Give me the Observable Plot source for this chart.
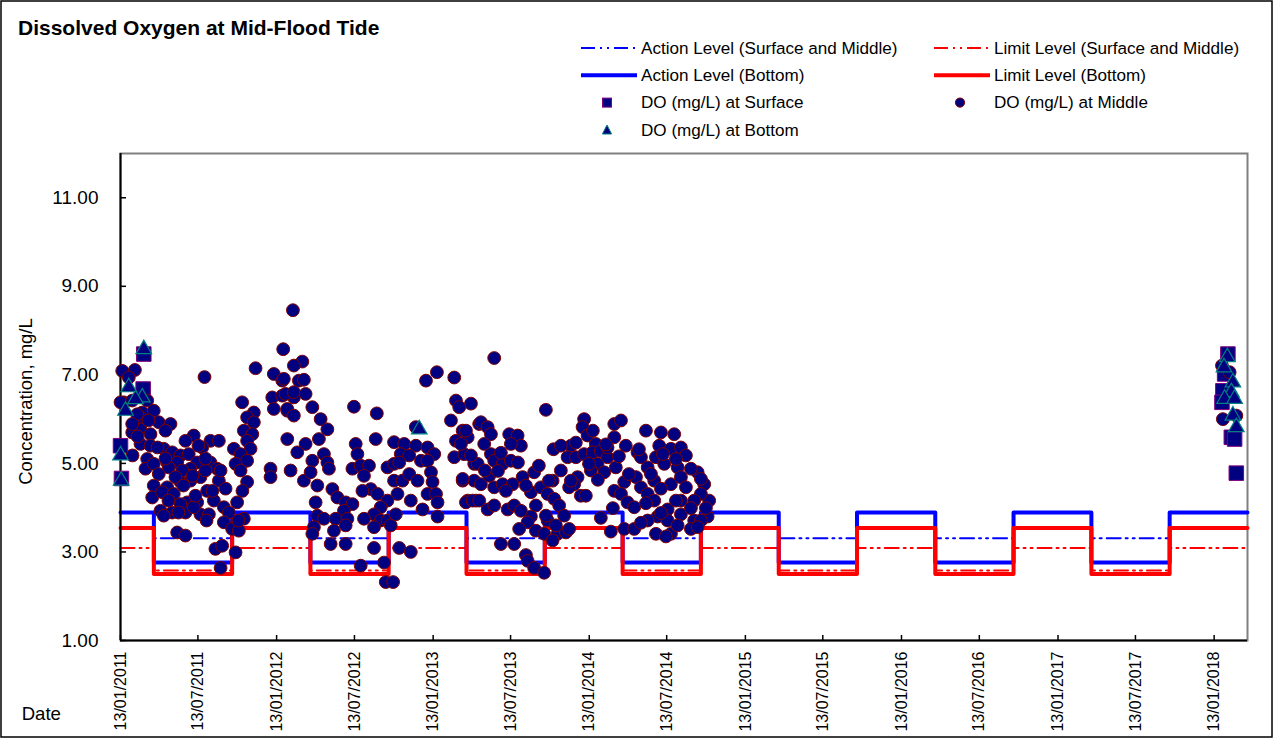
<!DOCTYPE html>
<html><head><meta charset="utf-8">
<script src="https://cdn.jsdelivr.net/npm/d3@7"></script>
<script src="https://cdn.jsdelivr.net/npm/@observablehq/plot@0.6"></script>
<style>
body{margin:0;background:#fff;}
#wrap{position:relative;width:1279px;height:740px;font-family:"Liberation Sans",Arial,sans-serif;}
#chart{position:absolute;left:0;top:0;}
#overlay{position:absolute;left:0;top:0;pointer-events:none;}
</style></head><body>
<div id="wrap"><div id="chart"></div><svg id="overlay" width="1279" height="740"></svg></div>
<script>
// ---------- data ----------
const titleText = "Dissolved Oxygen at Mid-Flood Tide";
const yTitle = "Concentration, mg/L";
const xTitle = "Date";
const xDomain = ["2011-01-13", "2018-04-01"];
const yDomain = [1, 12];
const yTicks = [1, 3, 5, 7, 9, 11];
const tickDates = ["2011-01-13","2011-07-13","2012-01-13","2012-07-13","2013-01-13","2013-07-13","2014-01-13","2014-07-13","2015-01-13","2015-07-13","2016-01-13","2016-07-13","2017-01-13","2017-07-13","2018-01-13"];

// seasonal step levels (value holds from each date until the next)
const levelDates = ["2011-01-13","2011-04-01","2011-10-01","2012-04-01","2012-10-01","2013-04-01","2013-10-01","2014-04-01","2014-10-01","2015-04-01","2015-10-01","2016-04-01","2016-10-01","2017-04-01","2017-10-01","2018-04-01"];
const actionSM = [3.89,3.31,3.89,3.31,3.89,3.31,3.89,3.31,3.89,3.31,3.89,3.31,3.89,3.31,3.89,3.89];
const limitSM  = [3.09,2.58,3.09,2.58,3.09,2.58,3.09,2.58,3.09,2.58,3.09,2.58,3.09,2.58,3.09,3.09];
const actionB  = [3.89,2.76,3.89,2.76,3.89,2.76,3.89,2.76,3.89,2.76,3.89,2.76,3.89,2.76,3.89,3.89];
const limitB   = [3.54,2.50,3.54,2.50,3.54,2.50,3.54,2.50,3.54,2.50,3.54,2.50,3.54,2.50,3.54,3.54];

// DO readings: [decimal year, mg/L]
const surface = [[2011.182,7.47],[2011.178,6.68],[2011.033,5.40],[2011.039,4.66],[2018.121,7.47],[2018.100,7.02],[2018.089,6.64],[2018.083,6.38],[2018.143,5.59],[2018.164,5.55],[2018.175,4.78]];
const bottom = [[2011.182,7.58],[2011.086,6.72],[2011.172,6.49],[2011.129,6.45],[2011.065,6.19],[2011.033,5.18],[2011.037,4.61],[2012.944,5.77],[2018.117,7.40],[2018.096,7.17],[2018.153,6.83],[2018.143,6.61],[2018.100,6.46],[2018.164,6.46],[2018.153,6.08],[2018.175,5.82]];
const middle = [
[2011.044,7.09],[2011.125,7.11],[2011.086,6.94],[2011.054,6.38],[2011.204,6.42],[2011.172,6.15],[2011.246,6.19],[2011.161,6.04],[2011.278,5.93],[2011.353,5.89],[2011.108,5.70],[2011.161,5.77],[2011.225,5.66],[2011.161,5.44],[2011.225,5.40],[2011.502,5.63],[2011.609,5.51],[2011.663,5.51],[2011.556,5.36],[2011.204,5.10],[2011.193,4.88],[2011.246,4.99],[2011.310,5.33],[2011.364,5.25],[2011.417,5.18],[2011.470,5.21],[2011.332,5.02],[2011.396,5.02],[2011.524,5.02],[2011.609,5.02],[2011.652,4.88],[2011.481,4.88],[2011.417,4.58],[2011.545,4.69],[2011.663,4.61],[2011.278,4.76],[2011.246,4.50],[2011.332,4.46],[2011.236,4.23],[2011.300,4.35],[2011.374,4.31],[2011.460,4.12],[2011.524,4.12],[2011.588,4.38],[2011.631,4.16],[2011.289,3.93],[2011.364,3.89],[2011.449,3.89],[2011.545,3.85],[2011.599,3.85],[2011.310,3.82],[2011.695,4.01],[2011.727,3.89],[2011.780,4.12],[2011.695,3.67],[2011.748,3.52],[2011.823,3.75],[2011.791,3.48],[2011.396,3.44],[2011.449,3.37],[2011.641,3.07],[2011.684,3.14],[2011.770,2.99],[2011.674,2.64],[2011.571,6.95],[2011.898,7.15],[2011.812,6.38],[2011.887,6.15],[2011.844,6.04],[2011.887,5.93],[2011.823,5.74],[2011.877,5.66],[2011.844,5.51],[2011.866,5.33],[2011.759,5.33],[2011.802,5.21],[2011.844,5.06],[2011.770,4.99],[2011.844,4.58],[2012.015,7.02],[2012.069,6.87],[2012.005,6.49],[2012.069,6.53],[2012.015,6.23],[2012.101,6.19],[2012.143,6.49],[2011.994,4.88],[2011.994,4.69],[2012.122,4.84],
[2011.033,6.38],[2011.108,6.42],[2011.140,6.11],[2011.108,5.89],[2011.342,4.91],[2011.428,4.84],[2011.385,4.69],[2011.481,4.61],[2011.577,4.84],[2011.502,4.01],[2011.417,4.08],
[2011.321,5.11],[2011.494,4.72],[2011.577,5.11],[2011.622,4.38],[2011.340,4.16],[2011.404,3.89],[2011.513,4.27],[2011.436,4.50],[2011.674,4.84],[2011.706,4.43],[2011.270,5.36],[2011.321,5.74],[2011.449,5.51],[2011.532,5.40],[2011.212,5.97],[2011.142,5.61],[2011.110,5.18],[2011.814,4.38],[2011.802,4.84],[2011.789,3.71],[2011.584,3.71],
[2012.137,8.46],[2012.075,7.58],[2012.197,7.30],[2012.143,7.21],[2012.079,6.91],[2012.175,6.87],[2012.207,6.89],[2012.090,6.57],[2012.143,6.61],[2012.218,6.57],[2012.101,6.23],[2012.143,6.08],[2012.261,6.27],[2012.314,6.00],[2012.357,5.77],[2012.101,5.55],[2012.218,5.44],[2012.165,5.25],[2012.303,5.55],[2012.261,5.06],[2012.335,5.21],[2012.357,5.02],[2012.367,4.88],[2012.207,4.61],[2012.250,4.80],[2012.293,4.50],[2012.282,4.12],[2012.389,4.42],[2012.421,4.23],[2012.474,4.12],[2012.517,4.08],[2012.463,3.93],[2012.293,3.82],[2012.335,3.75],[2012.410,3.75],[2012.485,3.75],[2012.271,3.56],[2012.261,3.41],[2012.399,3.48],[2012.474,3.60],[2012.378,3.18],[2012.474,3.18],[2012.570,2.69],[2012.527,6.28],[2012.673,6.13],[2012.666,5.55],[2012.538,5.44],[2012.549,5.21],[2012.517,4.88],[2012.570,4.95],[2012.623,4.95],[2012.591,4.72],[2012.634,4.42],[2012.581,4.38],[2012.677,4.31],[2012.741,4.91],[2012.783,4.99],[2012.783,5.48],[2012.848,5.44],[2012.922,5.82],[2012.922,5.40],[2012.997,5.36],[2013.040,5.21],[2012.987,6.87],[2013.057,7.06],[2013.168,6.94],[2012.826,5.21],[2012.880,5.18],[2012.955,5.06],[2012.997,5.06],[2012.816,5.02],[2012.783,4.61],[2012.837,4.61],[2012.880,4.76],[2012.933,4.61],[2013.019,4.80],[2013.029,4.58],[2012.997,4.31],[2013.051,4.31],[2013.061,4.12],[2012.805,4.31],[2012.890,4.16],[2012.741,4.16],[2012.698,4.01],[2012.655,3.85],[2012.698,3.71],[2012.741,3.71],[2012.762,3.60],[2012.794,3.85],[2012.965,3.96],[2013.061,3.80],[2012.655,3.56],[2012.591,3.75],[2012.655,3.09],[2012.816,3.09],[2012.890,3.00],[2012.719,2.76],[2012.730,2.32],[2012.777,2.32],[2013.179,6.42],[2013.275,6.35],[2013.147,5.97],[2013.222,5.74],[2013.179,5.51],[2013.254,5.59],[2013.168,5.14],[2013.232,5.21],[2013.296,4.99],[2013.222,4.61],[2013.296,4.61],[2013.254,4.16],[2013.307,4.16],[2013.328,5.89],
[2013.424,7.38],[2013.200,6.27],[2013.243,5.74],[2013.211,5.44],[2013.339,5.93],[2013.382,5.82],[2013.403,5.66],[2013.360,5.44],[2013.318,4.99],[2013.403,5.21],[2013.424,5.06],[2013.478,4.99],[2013.531,5.06],[2013.520,5.66],[2013.574,5.63],[2013.595,5.40],[2013.531,5.44],[2013.755,6.21],[2013.222,4.65],[2013.339,4.53],[2013.392,4.72],[2013.424,4.46],[2013.478,4.53],[2013.542,4.53],[2013.606,4.69],[2013.243,4.12],[2013.286,4.16],[2013.328,4.16],[2013.382,3.96],[2013.424,4.05],[2013.510,3.96],[2013.552,4.05],[2013.659,4.35],[2013.680,4.80],[2013.723,4.46],[2013.691,4.05],[2013.659,3.80],[2013.766,4.31],[2013.798,4.61],[2013.808,4.20],[2013.840,4.05],[2013.766,3.71],[2013.638,3.67],[2013.584,3.52],[2013.691,3.48],[2013.744,3.41],[2013.830,3.41],[2013.883,3.44],[2013.904,3.52],[2013.872,3.82],[2013.798,3.26],[2013.467,3.18],[2013.552,3.18],[2013.627,2.93],[2013.638,2.80],[2013.680,2.64],[2013.744,2.53],[2013.804,5.32],[2013.915,5.40],[2013.894,5.14],[2013.958,4.69],[2013.936,4.53],[2013.979,4.27],[2013.904,4.46],[2014.000,6.00],[2013.990,5.82],[2014.022,5.63],[2014.075,5.44],[2013.947,5.14],[2014.000,5.21],[2014.054,5.25],[2014.107,5.28],[2014.150,5.14],[2014.086,4.99],[2014.043,4.84],[2014.129,4.80],[2014.193,5.89],[2014.193,5.59],[2014.150,5.36],[2014.267,5.40],[2014.203,4.91],[2014.257,4.58],[2014.193,4.38],[2014.236,4.31],[2014.278,4.12],[2014.321,4.01],[2014.257,3.52],[2014.321,3.52],[2014.342,5.25],[2014.396,5.74],[2014.364,5.14],[2014.407,4.91],[2014.332,4.69],[2014.364,4.46],[2014.407,4.31],[2014.449,4.16],[2014.492,5.70],[2014.577,5.66],[2014.481,5.40],[2014.556,5.33],[2014.620,5.36],[2014.652,5.18],[2014.460,5.14],[2014.513,4.99],[2014.599,4.91],[2014.449,4.61],[2014.556,4.53],[2014.620,4.69],[2014.652,4.46],[2014.727,4.80],[2014.769,4.53],[2014.801,4.16],[2014.748,4.31],[2014.705,4.16],[2014.620,4.16],[2014.535,3.96],[2014.620,3.85],[2014.471,3.80],[2014.535,3.71],[2014.407,3.71],[2014.460,3.41],[2014.556,3.41],[2014.705,3.71],[2014.791,3.80],[2014.748,3.71],[2014.684,3.52],[2014.727,3.56],[2014.599,3.60],
[2013.448,4.83],[2013.499,4.38],[2013.576,5.02],[2013.627,4.50],[2013.710,4.95],[2013.774,4.61],[2013.851,4.84],[2013.595,3.93],[2013.755,3.82],[2013.819,3.60],[2013.467,5.24],[2013.275,5.18],[2013.364,4.84],
[2013.947,5.47],[2014.031,4.99],[2014.088,4.63],[2014.139,5.43],[2014.223,5.16],[2014.287,4.76],[2014.351,5.32],[2014.428,4.76],[2014.505,5.21],[2014.588,5.10],[2014.684,4.88],[2014.748,4.65],[2014.492,4.43],[2014.396,4.10],[2014.184,3.99],[2014.107,3.77],[2014.364,3.66],[2014.492,3.88],[2014.684,3.99],[2014.780,3.99],[2014.056,5.74],[2014.236,5.97],[2013.915,4.61],[2014.011,4.27],[2013.851,5.40],[2014.588,4.16],[2014.524,3.35],[2014.171,3.46],
[2018.083,7.21],[2018.132,7.06],[2018.089,6.00],[2018.175,6.08]
];

// ---------- build ----------
const toDate = t => { const Y = Math.floor(t); const a = Date.UTC(Y,0,1), b = Date.UTC(Y+1,0,1); return new Date(a + (t - Y) * (b - a)); };
const pts = arr => arr.map(([t, v]) => ({date: toDate(t), value: v}));
const levels = levelDates.map((d, i) => ({date: new Date(d), actionSM: actionSM[i], limitSM: limitSM[i], actionB: actionB[i], limitB: limitB[i]}));
const ticksX = tickDates.map(d => new Date(d));

const W = 1279, H = 740, mL = 120, mR = 32, mT = 153, mB = 100;
const plotW = W - mL - mR, plotH = H - mT - mB;
const dashDot = "14,5,2,5,2,5";
const FONT = "'Liberation Sans', Arial, sans-serif";

const chart = Plot.plot({
  width: W, height: H, marginLeft: mL, marginRight: mR, marginTop: mT, marginBottom: mB,
  style: {fontFamily: FONT, fontSize: "16px", background: "transparent", color: "#000"},
  x: {type: "utc", domain: xDomain.map(d => new Date(d)), label: null},
  y: {domain: yDomain, label: null},
  marks: [
    Plot.frame({stroke: "#808080", strokeWidth: 2}),
    Plot.line(levels, {x: "date", y: "actionSM", curve: "step-after", stroke: "#0000ff", strokeWidth: 2, strokeDasharray: dashDot}),
    Plot.line(levels, {x: "date", y: "limitSM", curve: "step-after", stroke: "#ff0000", strokeWidth: 2, strokeDasharray: dashDot}),
    Plot.line(levels, {x: "date", y: "actionB", curve: "step-after", stroke: "#0000ff", strokeWidth: 4}),
    Plot.line(levels, {x: "date", y: "limitB", curve: "step-after", stroke: "#ff0000", strokeWidth: 4}),
    Plot.ruleX([new Date(xDomain[0])], {stroke: "#000", strokeWidth: 2}),
    Plot.ruleY([yDomain[0]], {stroke: "#000", strokeWidth: 2}),
    Plot.tickX(ticksX, {x: d => d, insetTop: plotH - 5, stroke: "#000", strokeWidth: 1.5}),
    Plot.tickY(yTicks, {y: d => d, insetRight: plotW - 6, stroke: "#000", strokeWidth: 1.5}),
    Plot.axisX({ticks: ticksX, tickFormat: d3.utcFormat("%d/%m/%Y"), tickRotate: -90, tickSize: 0, tickPadding: 11, fontSize: 16, label: null}),
    Plot.axisY({ticks: yTicks, tickFormat: d3.format(".2f"), tickSize: 0, tickPadding: 22, fontSize: 19, label: null}),
    Plot.dot(pts(surface), {x: "date", y: "value", symbol: "square", r: 8.2, fill: "#000080", stroke: "#800080", strokeWidth: 1}),
    Plot.dot(pts(middle), {x: "date", y: "value", symbol: "circle", r: 6.4, fill: "#000080", stroke: "#800000", strokeWidth: 1}),
    Plot.dot(pts(bottom), {x: "date", y: "value", symbol: "triangle", r: 5.8, fill: "#000080", stroke: "#008080", strokeWidth: 1.2})
  ]
});
document.getElementById("chart").appendChild(chart);

// ---------- overlay: border, title, legend, axis titles ----------
const ov = d3.select("#overlay");
ov.append("rect").attr("x", 1).attr("y", 1).attr("width", 1271).attr("height", 736)
  .attr("fill", "none").attr("stroke", "#000").attr("stroke-width", 1.5);
ov.append("text").attr("x", 18).attr("y", 35.3).attr("font-size", 21).attr("font-weight", "bold")
  .attr("font-family", FONT).text(titleText);
ov.append("text").attr("x", 21.7).attr("y", 720).attr("font-size", 18.6)
  .attr("font-family", FONT).text(xTitle);
ov.append("text").attr("transform", "translate(31.5,401.5) rotate(-90)").attr("text-anchor", "middle")
  .attr("font-size", 18.5).attr("font-family", FONT).text(yTitle);

const legendItems = [
  {label: "Action Level (Surface and Middle)", col: 0, row: 0, kind: "line", color: "#0000ff", width: 2, dash: dashDot},
  {label: "Limit Level (Surface and Middle)", col: 1, row: 0, kind: "line", color: "#ff0000", width: 2, dash: dashDot},
  {label: "Action Level (Bottom)", col: 0, row: 1, kind: "line", color: "#0000ff", width: 4},
  {label: "Limit Level (Bottom)", col: 1, row: 1, kind: "line", color: "#ff0000", width: 4},
  {label: "DO (mg/L) at Surface", col: 0, row: 2, kind: "square", stroke: "#800080"},
  {label: "DO (mg/L) at Middle", col: 1, row: 2, kind: "circle", stroke: "#800000"},
  {label: "DO (mg/L) at Bottom", col: 0, row: 3, kind: "triangle", stroke: "#008080"}
];
const colX = [581, 934], rowY = [48, 75.3, 102.6, 130];
legendItems.forEach(it => {
  const x0 = colX[it.col], y = rowY[it.row], cx = x0 + 26;
  if (it.kind === "line") {
    ov.append("line").attr("x1", x0).attr("x2", x0 + 56).attr("y1", y).attr("y2", y)
      .attr("stroke", it.color).attr("stroke-width", it.width).attr("stroke-dasharray", it.dash || null);
  } else if (it.kind === "square") {
    ov.append("rect").attr("x", cx - 4.5).attr("y", y - 4.5).attr("width", 9).attr("height", 9)
      .attr("fill", "#000080").attr("stroke", it.stroke);
  } else if (it.kind === "circle") {
    ov.append("circle").attr("cx", cx).attr("cy", y).attr("r", 4.6).attr("fill", "#000080").attr("stroke", it.stroke);
  } else {
    ov.append("path").attr("d", `M${cx},${y-5}L${cx+4.6},${y+4}L${cx-4.6},${y+4}Z`)
      .attr("fill", "#000080").attr("stroke", it.stroke);
  }
  ov.append("text").attr("x", x0 + 60).attr("y", y + 5.8).attr("font-size", 17.1)
    .attr("font-family", FONT).text(it.label);
});
</script>
</body></html>
